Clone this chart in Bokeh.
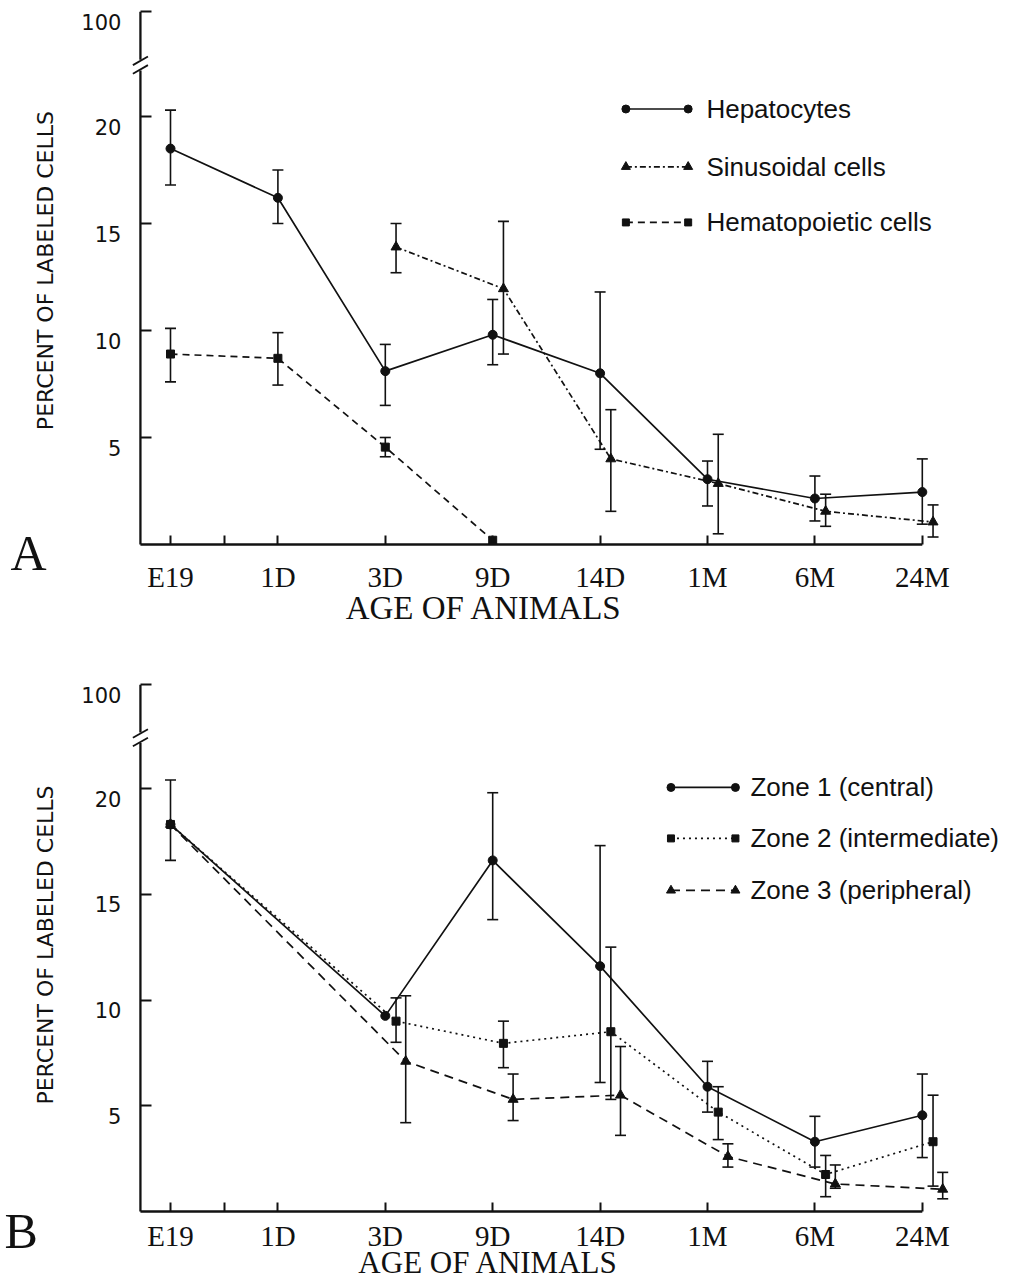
import math
from bokeh.plotting import figure
from bokeh.models import Range1d, FixedTicker, ColumnDataSource, Whisker, TeeHead, LinearAxis
from bokeh.layouts import column
from bokeh.embed import file_html
from bokeh.resources import INLINE
from bokeh.core.properties import value

NAN = float("nan")

# ---------------- data ----------------
AGES = ["E19", "1D", "3D", "9D", "14D", "1M", "6M", "24M"]
Y_TICKS = [5, 10, 15, 20]
TOP_VALUE = 24.9          # position of the "100" label above the axis break
TOP_LABEL = "100"

# Panel A
hep_ages = ["E19", "1D", "3D", "9D", "14D", "1M", "6M", "24M"]
hep_mean = [18.5, 16.2, 8.1, 9.8, 8.0, 3.05, 2.15, 2.45]
hep_low = [16.8, 15.0, 6.5, 8.4, 4.45, 1.8, 1.1, 0.95]
hep_high = [20.3, 17.5, 9.35, 11.45, 11.8, 3.9, 3.2, 4.0]

sin_ages = ["3D", "9D", "14D", "1M", "6M", "24M"]
sin_mean = [13.9, 11.95, 4.0, 2.85, 1.55, 1.05]
sin_low = [12.7, 8.9, 1.55, 0.5, 0.85, 0.35]
sin_high = [15.0, 15.1, 6.3, 5.15, 2.35, 1.85]

hem_ages = ["E19", "1D", "3D", "9D"]
hem_mean = [8.9, 8.7, 4.55, 0.2]
hem_low = [7.6, 7.45, 4.1, NAN]
hem_high = [10.1, 9.9, 5.0, NAN]

# Panel B
zone_ages = ["E19", "3D", "9D", "14D", "1M", "6M", "24M"]
z1_mean = [18.3, 9.25, 16.6, 11.6, 5.9, 3.3, 4.55]
z1_low = [16.6, NAN, 13.8, 6.1, 4.7, 2.1, 2.55]
z1_high = [20.4, NAN, 19.8, 17.3, 7.1, 4.5, 6.5]

z2_mean = [18.3, 9.0, 7.95, 8.5, 4.7, 1.75, 3.3]
z2_low = [NAN, 8.0, 6.8, 5.3, 3.4, 0.7, 1.2]
z2_high = [NAN, 10.1, 9.0, 12.5, 5.9, 2.65, 5.5]

z3_mean = [18.3, 7.1, 5.3, 5.5, 2.6, 1.3, 1.05]
z3_low = [NAN, 4.2, 4.3, 3.6, 2.1, 1.1, 0.6]
z3_high = [NAN, 10.2, 6.5, 7.8, 3.2, 2.2, 1.85]

# ---------------- styling / layout ----------------
INK = "#111111"
WIDTH = 1008
PX_PER_X = 107.4
X_START = -170.0 / PX_PER_X
X_END = X_START + WIDTH / PX_PER_X
AXIS_X = -0.28
LAST_X = len(AGES) - 1
BREAK_LO, BREAK_HI = 22.2, 22.6


def build_panel(series, letter, height, y_start, y_end, px_per_unit_y, xlab_standoff,
                leg_x0, leg_x1, leg_tx, leg_rows, letter_xy, title_xy, ylab_xy, title_size):
    p = figure(width=WIDTH, height=height, output_backend="svg", toolbar_location=None,
               x_range=Range1d(X_START, X_END), y_range=Range1d(y_start, y_end),
               min_border=0, min_border_left=0, min_border_right=0,
               min_border_top=0, min_border_bottom=0)
    p.outline_line_color = None
    p.xgrid.visible = False
    p.ygrid.visible = False
    p.background_fill_color = "white"
    p.border_fill_color = "white"

    # x axis (drawn at y = 0 inside the frame)
    xaxis = p.below[0]
    xaxis.fixed_location = 0
    xt = sorted([float(i) for i in range(len(AGES))] + [0.5])
    xaxis.ticker = FixedTicker(ticks=xt)
    ov = {float(i): a for i, a in enumerate(AGES)}
    ov[0.5] = ""
    xaxis.major_label_overrides = ov
    xaxis.axis_line_color = None
    xaxis.major_tick_in = 9
    xaxis.major_tick_out = 0
    xaxis.major_tick_line_width = 2
    xaxis.major_tick_line_color = INK
    xaxis.minor_tick_line_color = None
    xaxis.major_label_text_font = "Liberation Serif"
    xaxis.major_label_text_font_size = "29px"
    xaxis.major_label_text_color = INK
    xaxis.major_label_standoff = xlab_standoff

    # y axis ticks (drawn at x = AXIS_X inside the frame)
    yaxis = p.left[0]
    yaxis.fixed_location = AXIS_X
    yaxis.ticker = FixedTicker(ticks=Y_TICKS + [TOP_VALUE])
    yaxis.axis_line_color = None
    yaxis.major_tick_in = 11
    yaxis.major_tick_out = 0
    yaxis.major_tick_line_width = 2
    yaxis.major_tick_line_color = INK
    yaxis.minor_tick_line_color = None
    yaxis.major_label_text_color = None

    # y tick labels sit a little below their ticks in the original
    drop = 10.0 / px_per_unit_y
    lab_vals = [v - drop for v in Y_TICKS + [TOP_VALUE]]
    lab_text = [str(v) for v in Y_TICKS] + [TOP_LABEL]
    ylab_axis = LinearAxis(fixed_location=AXIS_X,
                           ticker=FixedTicker(ticks=lab_vals),
                           major_label_overrides=dict(zip(lab_vals, lab_text)),
                           axis_line_color=None, major_tick_line_color=None,
                           minor_tick_line_color=None,
                           major_label_text_font="DejaVu Sans",
                           major_label_text_font_size="21px",
                           major_label_text_color=INK, major_label_standoff=13)
    p.add_layout(ylab_axis, "left")

    # hand-drawn axis lines with the break
    p.segment(x0=[AXIS_X, AXIS_X, AXIS_X], y0=[0, BREAK_HI + 0.05, 0],
              x1=[AXIS_X, AXIS_X, LAST_X], y1=[BREAK_LO - 0.05, TOP_VALUE, 0],
              line_width=2.3, line_color=INK)
    p.segment(x0=[AXIS_X - 0.07, AXIS_X - 0.07], y0=[BREAK_LO - 0.2, BREAK_HI - 0.2],
              x1=[AXIS_X + 0.07, AXIS_X + 0.07], y1=[BREAK_LO + 0.2, BREAK_HI + 0.2],
              line_width=1.8, line_color=INK)

    # series
    for s in series:
        xs = [AGES.index(a) + (0 if a == "E19" else s["dodge"]) for a in s["ages"]]
        p.line(xs, s["mean"], line_color=INK, line_width=1.7, line_dash=s["dash"])
        p.scatter(xs, s["mean"], marker=s["marker"], size=s["size"],
                  fill_color=INK, line_color=INK)
        bx, bl, bu = [], [], []
        for x, lo, hi in zip(xs, s["low"], s["high"]):
            if not (math.isnan(lo) or math.isnan(hi)):
                bx.append(x); bl.append(lo); bu.append(hi)
        src = ColumnDataSource(dict(base=bx, lower=bl, upper=bu))
        w = Whisker(source=src, base="base", lower="lower", upper="upper",
                    dimension="height", line_width=1.6, line_color=INK,
                    upper_head=TeeHead(size=11, line_width=1.6, line_color=INK),
                    lower_head=TeeHead(size=11, line_width=1.6, line_color=INK))
        p.add_layout(w)

    # legend drawn inside the plot
    for s, ly in zip(series, leg_rows):
        p.line([leg_x0, leg_x1], [ly, ly], line_color=INK, line_width=1.7, line_dash=s["dash"])
        p.scatter([leg_x0, leg_x1], [ly, ly], marker=s["marker"], size=s["size"] - 1,
                  fill_color=INK, line_color=INK)
        p.text(x=[leg_tx], y=[ly], text=[s["name"]], text_font=value("Liberation Sans"),
               text_font_size="26px", text_baseline="middle", text_align="left",
               text_color=INK)

    # texts outside the data area
    p.text(x=[ylab_xy[0]], y=[ylab_xy[1]], text=["PERCENT OF LABELED CELLS"],
           angle=math.pi / 2, text_font=value("DejaVu Sans"), text_font_size="22px",
           text_align="center", text_baseline="middle", text_color=INK)
    p.text(x=[letter_xy[0]], y=[letter_xy[1]], text=[letter],
           text_font=value("Liberation Serif"), text_font_size="50px",
           text_align="center", text_baseline="middle", text_color=INK)
    p.text(x=[title_xy[0]], y=[title_xy[1]], text=["AGE OF ANIMALS"],
           text_font=value("Liberation Serif"), text_font_size=title_size,
           text_align="center", text_baseline="middle", text_color=INK)
    return p


series_a = [
    dict(name="Hepatocytes", ages=hep_ages, mean=hep_mean, low=hep_low, high=hep_high,
         dodge=0.0, dash="solid", marker="circle", size=9),
    dict(name="Sinusoidal cells", ages=sin_ages, mean=sin_mean, low=sin_low, high=sin_high,
         dodge=0.1, dash="6 3 2 3", marker="triangle", size=10),
    dict(name="Hematopoietic cells", ages=hem_ages, mean=hem_mean, low=hem_low, high=hem_high,
         dodge=0.0, dash="7 5", marker="square", size=8),
]
series_b = [
    dict(name="Zone 1 (central)", ages=zone_ages, mean=z1_mean, low=z1_low, high=z1_high,
         dodge=0.0, dash="solid", marker="circle", size=9),
    dict(name="Zone 2 (intermediate)", ages=zone_ages, mean=z2_mean, low=z2_low, high=z2_high,
         dodge=0.1, dash="2 4", marker="square", size=8),
    dict(name="Zone 3 (peripheral)", ages=zone_ages, mean=z3_mean, low=z3_low, high=z3_high,
         dodge=0.19, dash="9 6", marker="triangle", size=10),
]

# panel A: canvas rows 0..637, value 0 at row 544, 21.4 px per unit
# panel B: canvas rows 637..1280, value 0 at row 1211, 21.15 px per unit
pa = build_panel(series_a, "A", height=637, y_start=-93 / 21.4, y_end=544 / 21.4,
                 px_per_unit_y=21.4, xlab_standoff=16,
                 leg_x0=4.24, leg_x1=4.82, leg_tx=4.99, leg_rows=[20.35, 17.65, 15.05],
                 letter_xy=(-1.322, -0.42), title_xy=(2.92, -2.99), ylab_xy=(-1.164, 12.8),
                 title_size="33px")
pb = build_panel(series_b, "B", height=643, y_start=-69 / 21.15, y_end=574 / 21.15,
                 px_per_unit_y=21.15, xlab_standoff=8,
                 leg_x0=4.66, leg_x1=5.26, leg_tx=5.40, leg_rows=[20.05, 17.64, 15.18],
                 letter_xy=(-1.39, -0.9), title_xy=(2.96, -2.4), ylab_xy=(-1.164, 12.6),
                 title_size="31px")

layout = column(pa, pb, spacing=0)
open("out.html", "w").write(file_html(layout, INLINE))
